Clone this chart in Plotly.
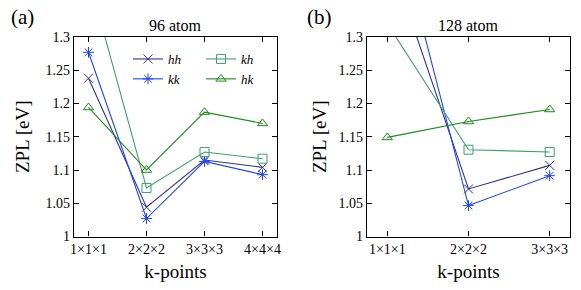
import plotly.graph_objects as go

kpts_a = ["1×1×1", "2×2×2", "3×3×3", "4×4×4"]
kpts_b = ["1×1×1", "2×2×2", "3×3×3"]

hh_a = [1.238, 1.044, 1.115, 1.104]
kk_a = [1.277, 1.027, 1.113, 1.093]
kh_a = [1.39, 1.073, 1.127, 1.117]
hk_a = [1.194, 1.100, 1.187, 1.170]

hh_b = [1.43, 1.0715, 1.107]
kk_b = [1.52, 1.0465, 1.0915]
kh_b = [1.32, 1.1305, 1.127]
hk_b = [1.149, 1.173, 1.191]

yticks = [1, 1.05, 1.1, 1.15, 1.2, 1.25, 1.3]
ytick_text = ["1", "1.05", "1.1", "1.15", "1.2", "1.25", "1.3"]

C_HH = "#2e3192"
C_KK = "#1f45ff"
C_KH = "#3fa06a"
C_HK = "#1a8c1a"

series = [
    ("hh", C_HH, "x-thin-open", hh_a, hh_b, "legend"),
    ("kk", C_KK, "asterisk-open", kk_a, kk_b, "legend"),
    ("kh", C_KH, "square-open", kh_a, kh_b, "legend2"),
    ("hk", C_HK, "triangle-up-open", hk_a, hk_b, "legend2"),
]

FONT = "Liberation Serif, Times New Roman, serif"
fig = go.Figure()
for name, col, sym, ya, yb, leg in series:
    fig.add_trace(go.Scatter(
        x=list(range(1, len(ya) + 1)), y=ya, mode="lines+markers",
        name=f"<i>{name}</i>", legend=leg,
        line=dict(color=col, width=1.1),
        marker=dict(symbol=sym, size=9, color=col, line=dict(color=col, width=1)),
        xaxis="x", yaxis="y",
    ))
for name, col, sym, ya, yb, leg in series:
    fig.add_trace(go.Scatter(
        x=list(range(1, len(yb) + 1)), y=yb, mode="lines+markers",
        showlegend=False,
        line=dict(color=col, width=1.1),
        marker=dict(symbol=sym, size=9, color=col, line=dict(color=col, width=1)),
        xaxis="x2", yaxis="y2",
    ))

axis_common = dict(
    showline=True, linecolor="black", linewidth=1.2, mirror="ticks",
    ticks="inside", ticklen=5, tickcolor="black", tickwidth=1,
    showgrid=False, zeroline=False, automargin=False,
    tickfont=dict(family=FONT, size=14, color="black"),
)
ydom = [1 - 236.5 / 290, 1 - 37 / 290]
fig.update_layout(
    template="none",
    width=581, height=290,
    margin=dict(l=0, r=0, t=0, b=0, autoexpand=False),
    paper_bgcolor="white", plot_bgcolor="white",
    font=dict(family=FONT, color="black"),
    xaxis=dict(domain=[74 / 581, 277 / 581], range=[0.75, 4.25],
               tickvals=[1, 2, 3, 4], ticktext=kpts_a,
               title=dict(text="k-points", font=dict(family=FONT, size=19), standoff=8),
               anchor="y", **axis_common),
    yaxis=dict(domain=ydom, range=[1, 1.3], tickvals=yticks, ticktext=ytick_text,
               title=dict(text="ZPL [eV]", font=dict(family=FONT, size=19), standoff=10),
               anchor="x", **axis_common),
    xaxis2=dict(domain=[367 / 581, 570 / 581], range=[0.75, 3.25],
                tickvals=[1, 2, 3], ticktext=kpts_b,
                title=dict(text="k-points", font=dict(family=FONT, size=19), standoff=8),
                anchor="y2", **axis_common),
    yaxis2=dict(domain=ydom, range=[1, 1.3], tickvals=yticks, ticktext=ytick_text,
                title=dict(text="ZPL [eV]", font=dict(family=FONT, size=19), standoff=6),
                anchor="x2", **axis_common),
    legend=dict(x=128 / 581, y=1 - 44 / 290, xanchor="left", yanchor="top",
                bgcolor="rgba(0,0,0,0)", font=dict(family=FONT, size=13),
                itemwidth=30, tracegroupgap=0),
    legend2=dict(x=201 / 581, y=1 - 44 / 290, xanchor="left", yanchor="top",
                 bgcolor="rgba(0,0,0,0)", font=dict(family=FONT, size=13),
                 itemwidth=30, tracegroupgap=0),
    annotations=[
        dict(text="96 atom", x=(74 + 277) / 2 / 581, y=1 - 25 / 290, xref="paper", yref="paper",
             xanchor="center", yanchor="middle", showarrow=False, font=dict(family=FONT, size=16)),
        dict(text="128 atom", x=(367 + 570) / 2 / 581, y=1 - 25 / 290, xref="paper", yref="paper",
             xanchor="center", yanchor="middle", showarrow=False, font=dict(family=FONT, size=16)),
        dict(text="(a)", x=22 / 581, y=1 - 17 / 290, xref="paper", yref="paper",
             xanchor="center", yanchor="middle", showarrow=False, font=dict(family=FONT, size=21)),
        dict(text="(b)", x=319 / 581, y=1 - 17 / 290, xref="paper", yref="paper",
             xanchor="center", yanchor="middle", showarrow=False, font=dict(family=FONT, size=21)),
    ],
)

fig.write_html("out.html", config={"displayModeBar": False},
               post_script="document.body.style.margin='0';")
